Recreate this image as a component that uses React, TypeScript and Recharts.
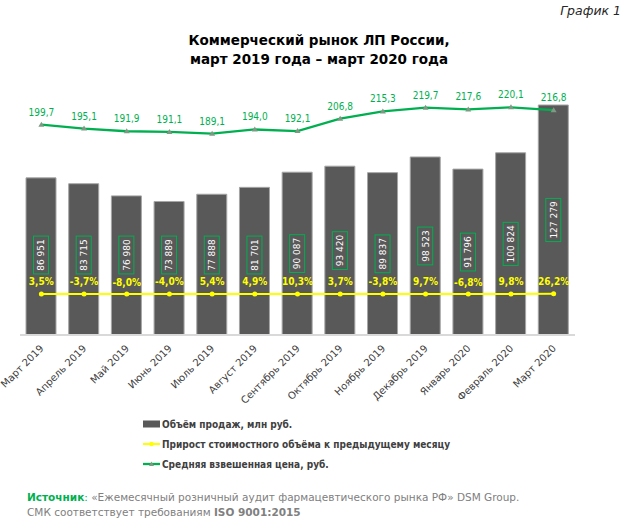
import { Bar, ComposedChart, LabelList, Line, XAxis, YAxis } from "recharts";

const months = [
  "Март 2019",
  "Апрель 2019",
  "Май 2019",
  "Июнь 2019",
  "Июль 2019",
  "Август 2019",
  "Сентябрь 2019",
  "Октябрь 2019",
  "Ноябрь 2019",
  "Декабрь 2019",
  "Январь 2020",
  "Февраль 2020",
  "Март 2020",
];
// объём продаж, млн руб.
const salesVolume = [86951, 83715, 76980, 73889, 77888, 81701, 90087, 93420, 89837, 98523, 91796, 100824, 127279];
// прирост к предыдущему месяцу, %
const growthPct = [3.5, -3.7, -8.0, -4.0, 5.4, 4.9, 10.3, 3.7, -3.8, 9.7, -6.8, 9.8, 26.2];
// средняя взвешенная цена, руб.
const avgPrice = [199.7, 195.1, 191.9, 191.1, 189.1, 194.0, 192.1, 206.8, 215.3, 219.7, 217.6, 220.1, 216.8];

const legendNames = [
  "Объём продаж, млн руб.",
  "Прирост стоимостного объёма к предыдущему месяцу",
  "Средняя взвешенная цена, руб.",
];

// growth sits on the price axis as a fraction, like in the Excel original
const data = months.map((m, i) => ({
  month: m,
  volume: salesVolume[i],
  growth: growthPct[i] / 100,
  price: avgPrice[i],
}));

const GREEN = "#00b050";
const YELLOW = "#ffff00";
const BAR = "#595959";
const TEXT = "#404040";
const NARROW = "'DejaVu Sans Condensed', 'DejaVu Sans', sans-serif";
const WIDE = "'DejaVu Sans', sans-serif";

const fmtThousands = (v: number) => String(v).replace(/\B(?=(\d{3})+(?!\d))/g, " ");
const fmtComma = (v: number) => v.toFixed(1).replace(".", ",");

function MonthTick({ x, y, payload }: any) {
  return (
    <text
      transform={`translate(${x + 3},${y + 12}) rotate(-45)`}
      textAnchor="end"
      fontSize={10}
      fontFamily={WIDE}
      fill={TEXT}
    >
      {payload.value}
    </text>
  );
}

function VolumeLabel({ viewBox, value }: any) {
  const { x, y, width, height } = viewBox;
  const cx = x + width / 2;
  // centred in the bar, but kept clear of the growth labels on short bars
  const cy = Math.min(y + height / 2, 255);
  const text = fmtThousands(Number(value));
  const len = text.length * 5.3 + 6;
  return (
    <g>
      <rect x={cx - 7.5} y={cy - len / 2} width={15} height={len} fill="none" stroke={GREEN} strokeWidth={1} />
      <text
        transform={`translate(${cx + 3.3},${cy}) rotate(-90)`}
        textAnchor="middle"
        fontSize={9}
        fontFamily={WIDE}
        fill="#ffffff"
      >
        {text}
      </text>
    </g>
  );
}

function GrowthLabel({ x, y, value }: any) {
  return (
    <text x={x} y={y - 8.5} textAnchor="middle" fontSize={10} fontWeight="bold" fontFamily={NARROW} fill={YELLOW}>
      {fmtComma(Number(value) * 100)}%
    </text>
  );
}

function PriceLabel({ x, y, value }: any) {
  return (
    <text x={x} y={y - 9} textAnchor="middle" fontSize={10} fontFamily={NARROW} fill={GREEN}>
      {fmtComma(Number(value))}
    </text>
  );
}

function Triangle({ cx, cy, index }: any) {
  return <path key={index} d={`M${cx},${cy - 3} L${cx + 3},${cy + 2} L${cx - 3},${cy + 2} Z`} fill="#7f9a84" />;
}

function Swatch({ kind }: { kind: number }) {
  return (
    <svg width={17} height={8} style={{ display: "block", marginRight: 2 }}>
      {kind === 0 && <rect x={0} y={0.5} width={17} height={7} fill={BAR} />}
      {kind === 1 && (
        <>
          <line x1={0} y1={4} x2={17} y2={4} stroke={YELLOW} strokeWidth={2} />
          <circle cx={8.5} cy={4} r={2.3} fill={YELLOW} />
        </>
      )}
      {kind === 2 && (
        <>
          <line x1={0} y1={4} x2={17} y2={4} stroke={GREEN} strokeWidth={2.3} />
          <path d="M8.5,1.5 L11,6 L6,6 Z" fill="#7f9a84" />
        </>
      )}
    </svg>
  );
}

export default function App() {
  return (
    <div style={{ position: "absolute", left: 0, top: 0, width: 634, height: 523, background: "#fff" }}>
      <div
        style={{
          position: "absolute",
          right: 13,
          top: 3,
          fontFamily: WIDE,
          fontStyle: "italic",
          fontSize: 12.5,
          color: "#262626",
        }}
      >
        График 1
      </div>
      <div
        style={{
          position: "absolute",
          left: 4,
          top: 31,
          width: 630,
          textAlign: "center",
          fontFamily: WIDE,
          fontWeight: "bold",
          fontSize: 13.5,
          lineHeight: "19px",
          color: "#000",
        }}
      >
        Коммерческий рынок ЛП России,
        <br />
        март 2019 года – март 2020 года
      </div>

      <ComposedChart width={634} height={523} data={data} margin={{ top: 82, right: 59, left: 20, bottom: 158 }}>
        <XAxis
          dataKey="month"
          height={30}
          interval={0}
          tickLine={false}
          tickSize={0}
          axisLine={{ stroke: "#d9d9d9", strokeWidth: 2 }}
          tick={<MonthTick />}
        />
        <YAxis yAxisId="vol" hide domain={[0, 140000]} />
        <YAxis yAxisId="price" hide domain={[-48.4, 250]} allowDataOverflow />
        <Bar yAxisId="vol" dataKey="volume" fill={BAR} stroke="#a6a6a6" strokeWidth={1} barSize={30} isAnimationActive={false}>
          <LabelList dataKey="volume" content={<VolumeLabel />} />
        </Bar>
        <Line
          yAxisId="price"
          dataKey="growth"
          stroke={YELLOW}
          strokeWidth={2}
          dot={{ r: 2.5, fill: YELLOW, stroke: YELLOW, strokeWidth: 0 }}
          isAnimationActive={false}
        >
          <LabelList dataKey="growth" content={<GrowthLabel />} />
        </Line>
        <Line
          yAxisId="price"
          dataKey="price"
          stroke={GREEN}
          strokeWidth={2.3}
          dot={<Triangle />}
          isAnimationActive={false}
        >
          <LabelList dataKey="price" content={<PriceLabel />} />
        </Line>
      </ComposedChart>

      <div style={{ position: "absolute", left: 143, top: 414, fontFamily: NARROW, fontWeight: "bold", fontSize: 10, color: TEXT }}>
        {legendNames.map((name, i) => (
          <div key={name} style={{ display: "flex", alignItems: "center", height: 20 }}>
            <Swatch kind={i} />
            <span>{name}</span>
          </div>
        ))}
      </div>

      <div
        style={{
          position: "absolute",
          left: 27,
          top: 490,
          fontFamily: WIDE,
          fontSize: 10.5,
          lineHeight: "14.5px",
          color: "#808080",
        }}
      >
        <div>
          <span style={{ color: GREEN, fontWeight: "bold" }}>Источник</span>
          <span style={{ color: GREEN }}>:</span> «Ежемесячный розничный аудит фармацевтического рынка РФ» DSM Group.
        </div>
        <div>
          СМК соответствует требованиям <b>ISO 9001:2015</b>
        </div>
      </div>
    </div>
  );
}
